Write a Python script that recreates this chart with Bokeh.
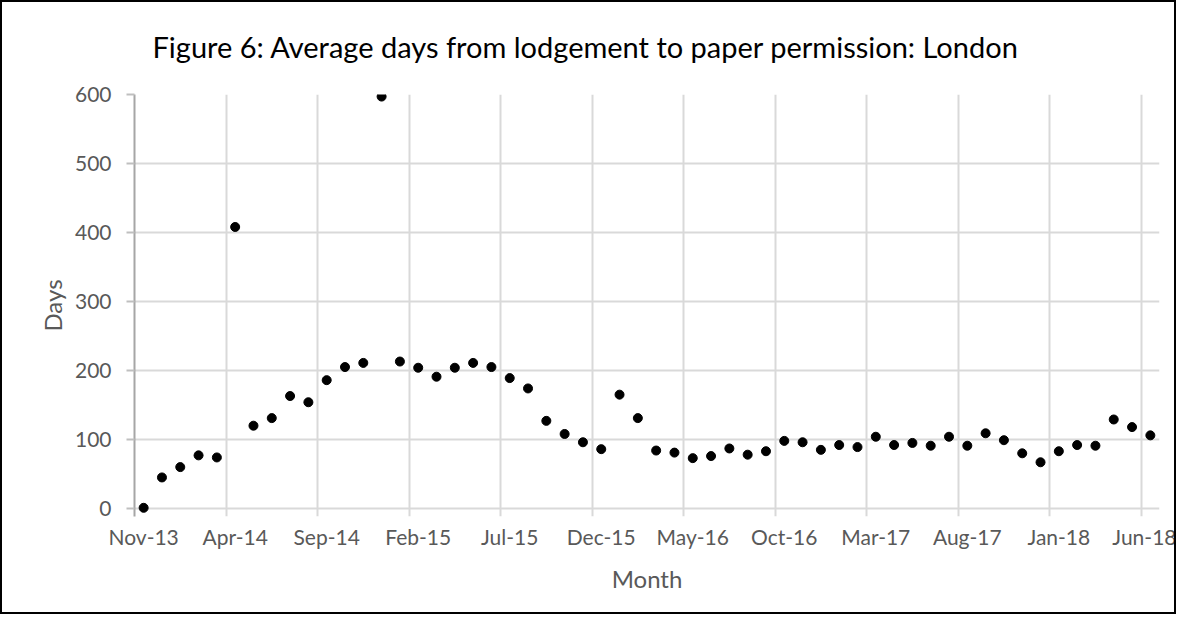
from bokeh.plotting import figure
from bokeh.models import ColumnDataSource, FixedTicker, Range1d, InlineStyleSheet
from bokeh.embed import file_html
from bokeh.resources import INLINE

# ---- data ----
tick_labels = ["Nov-13", "Apr-14", "Sep-14", "Feb-15", "Jul-15", "Dec-15",
               "May-16", "Oct-16", "Mar-17", "Aug-17", "Jan-18", "Jun-18"]
days = [1, 45, 60, 77, 74, 408, 120, 131, 163, 154,
        186, 205, 211, 597, 213, 204, 191, 204, 211, 205,
        189, 174, 127, 108, 96, 86, 165, 131, 84, 81,
        73, 76, 87, 78, 83, 98, 96, 85, 92, 89,
        104, 92, 95, 91, 104, 91, 109, 99, 80, 67,
        83, 92, 91, 129, 118, 106]
y_ticks = [0, 100, 200, 300, 400, 500, 600]

month_index = list(range(len(days)))
label_pos = list(range(0, len(days), 5))
grid_pos = [i - 0.5 for i in label_pos[1:]]

FONT = "Lato"
GREY = "#595959"
GRID = "#d9d9d9"

W, H = 1176, 614
FW, FH = 1025, 422          # frame extends 8px below the zero line (tick marks)
Y_MAX = 600
Y_MIN = -Y_MAX * 8 / 414

p = figure(width=W, height=H, frame_width=FW, frame_height=FH,
           min_border_left=134, min_border_right=W - 134 - FW,
           min_border_top=94, min_border_bottom=H - 94 - FH,
           x_range=Range1d(-0.5, len(days) - 0.5), y_range=Range1d(Y_MIN, Y_MAX),
           output_backend="svg", toolbar_location=None,
           title="Figure 6: Average days from lodgement to paper permission: London")

p.outline_line_color = None
p.background_fill_color = "white"
p.border_fill_color = "white"
p.stylesheets = [InlineStyleSheet(css=(
    ":host::after { content: ''; position: absolute; left: 0; top: 0; "
    "right: 0; bottom: 0; border: 2px solid #000000; "
    "pointer-events: none; z-index: 1000; }"))]

p.title.text_font = FONT
p.title.text_font_size = "29px"
p.title.text_font_style = "normal"
p.title.text_color = "#000000"
p.title.align = "left"
p.title.vertical_align = "top"
p.title.offset = 18
p.title.standoff = 57

xa = p.xaxis[0]
xa.ticker = FixedTicker(ticks=label_pos)
xa.major_label_overrides = {pos: lab for pos, lab in zip(label_pos, tick_labels)}
xa.major_tick_line_color = None
xa.minor_tick_line_color = None
xa.axis_line_color = None
xa.major_label_text_font = FONT
xa.major_label_text_font_size = "21px"
xa.major_label_text_color = GREY
xa.major_label_standoff = 1
xa.axis_label = "Month"
xa.axis_label_text_font = FONT
xa.axis_label_text_font_size = "24px"
xa.axis_label_text_font_style = "normal"
xa.axis_label_text_color = GREY
xa.axis_label_standoff = 12

ya = p.yaxis[0]
ya.ticker = FixedTicker(ticks=y_ticks)
ya.major_tick_in = 0
ya.major_tick_out = 8
ya.minor_tick_line_color = None
ya.major_tick_line_color = "#bfbfbf"
ya.major_tick_line_width = 2
ya.axis_line_color = "#a6a6a6"
ya.axis_line_width = 2
ya.major_label_text_font = FONT
ya.major_label_text_font_size = "21px"
ya.major_label_text_color = GREY
ya.major_label_standoff = 15
ya.axis_label = "Days"
ya.axis_label_text_font = FONT
ya.axis_label_text_font_size = "24px"
ya.axis_label_text_font_style = "normal"
ya.axis_label_text_color = GREY
ya.axis_label_standoff = 5

p.xgrid.ticker = FixedTicker(ticks=grid_pos)
p.xgrid.grid_line_color = GRID
p.xgrid.grid_line_width = 2
p.ygrid.ticker = FixedTicker(ticks=y_ticks)
p.ygrid.grid_line_color = GRID
p.ygrid.grid_line_width = 2

src = ColumnDataSource(dict(x=month_index, y=days))
p.scatter("x", "y", source=src, size=9, marker="circle",
          fill_color="#000000", line_color="#000000")

open("out.html", "w").write(file_html(p, INLINE))
